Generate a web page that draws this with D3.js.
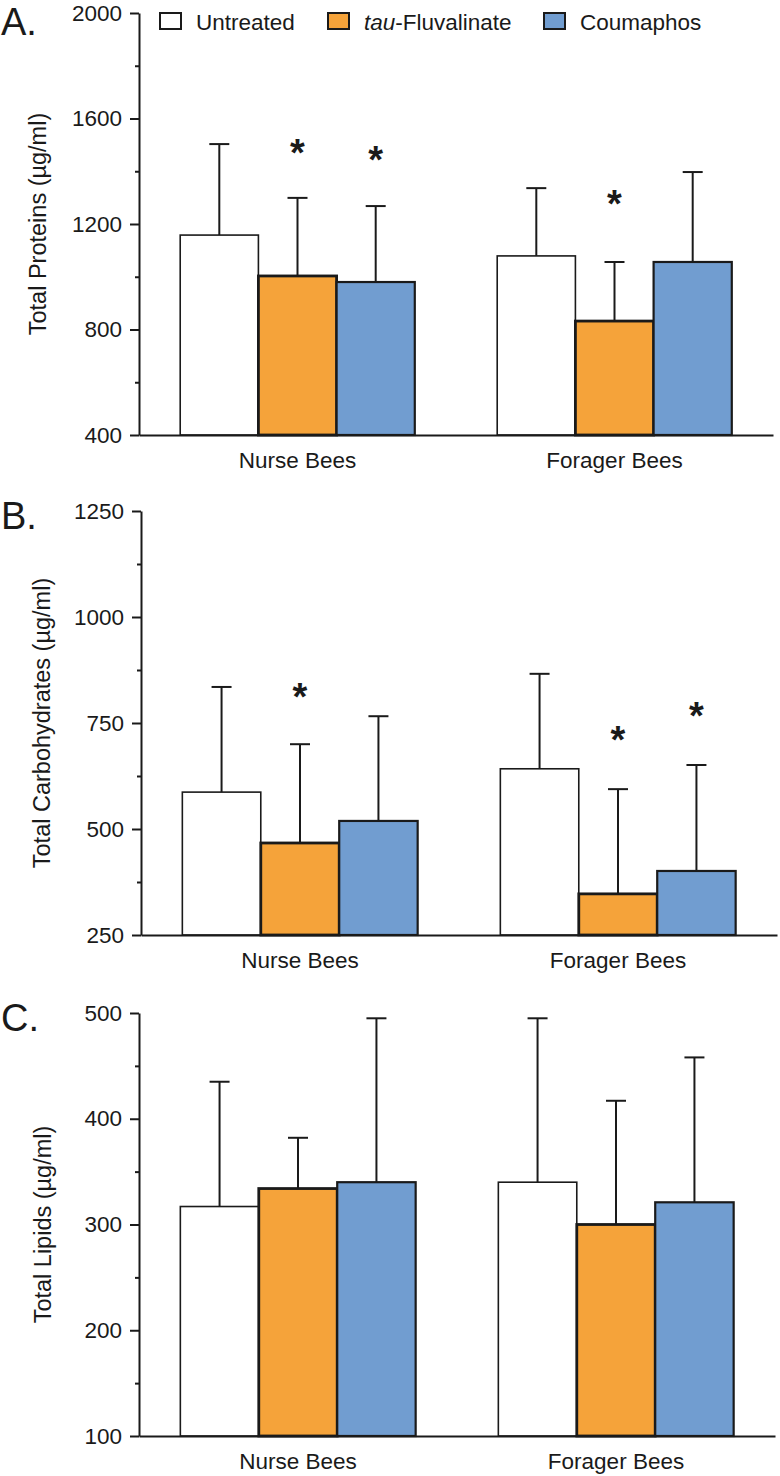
<!DOCTYPE html>
<html>
<head>
<meta charset="utf-8">
<script src="https://cdn.jsdelivr.net/npm/d3@7"></script>
<style>
  html, body { margin: 0; padding: 0; background: #fff; }
  svg text { font-family: Arial, "Liberation Sans", sans-serif; fill: #1a1a1a; }
</style>
</head>
<body>
<svg id="chart" width="780" height="1476"></svg>
<script>
// ---- data ----
const groups = ["Nurse Bees", "Forager Bees"];
const treatments = ["Untreated", "tau-Fluvalinate", "Coumaphos"];
const colors = ["#ffffff", "#f5a33a", "#719dd0"];

// Panel A: total proteins (mean, mean + SD, significance marker height or null)
const proteinMeans = [[1158, 1003, 980], [1079, 832, 1056]];
const proteinUpper = [[1503, 1299, 1268], [1336, 1056, 1397]];
const proteinStars = [[null, 1500, 1473], [null, 1306, null]];
const proteinTicks = [400, 800, 1200, 1600, 2000];

// Panel B: total carbohydrates
const carbMeans = [[587, 467, 519], [642, 347, 401]];
const carbUpper = [[835, 700, 766], [866, 594, 651]];
const carbStars = [[null, 830, null], [null, 729, 785]];
const carbTicks = [250, 500, 750, 1000, 1250];

// Panel C: total lipids
const lipidMeans = [[317, 334, 340], [340, 300, 321]];
const lipidUpper = [[435, 382, 495], [495, 417, 458]];
const lipidStars = [[null, null, null], [null, null, null]];
const lipidTicks = [100, 200, 300, 400, 500];

const svg = d3.select("#chart");
const FS = 22.5;
const ink = "#1a1a1a";
const strokeW = [1.6, 2.8, 2.2];
const FONT = "Arial, 'Liberation Sans', sans-serif";

const panels = [
  { letter: "A.", title: "Total Proteins (µg/ml)", means: proteinMeans, upper: proteinUpper, stars: proteinStars, ticks: proteinTicks,
    left: 139, right: 773, top: 13, bottom: 435, titleX: 46, letterY: 35 },
  { letter: "B.", title: "Total Carbohydrates (µg/ml)", means: carbMeans, upper: carbUpper, stars: carbStars, ticks: carbTicks,
    left: 141, right: 777, top: 511, bottom: 935, titleX: 50, letterY: 529 },
  { letter: "C.", title: "Total Lipids (µg/ml)", means: lipidMeans, upper: lipidUpper, stars: lipidStars, ticks: lipidTicks,
    left: 139, right: 775, top: 1013, bottom: 1436, titleX: 51, letterY: 1031 }
];

panels.forEach(p => {
  const g = svg.append("g");
  const y = d3.scaleLinear()
    .domain([p.ticks[0], p.ticks[p.ticks.length - 1]])
    .range([p.bottom, p.top]);
  const x0 = d3.scaleBand().domain(groups).range([p.left, p.right])
    .paddingInner(0.26).paddingOuter(0.13);
  const x1 = d3.scaleBand().domain(d3.range(treatments.length)).range([0, x0.bandwidth()]);

  groups.forEach((grp, gi) => {
    const gg = g.append("g").attr("transform", `translate(${x0(grp)},0)`);
    treatments.forEach((t, ti) => {
      const m = p.means[gi][ti], u = p.upper[gi][ti];
      const cx = x1(ti) + x1.bandwidth() / 2;
      gg.append("line").attr("x1", cx).attr("x2", cx)
        .attr("y1", y(m)).attr("y2", y(u))
        .attr("stroke", ink).attr("stroke-width", 2);
      gg.append("line").attr("x1", cx - 10).attr("x2", cx + 10)
        .attr("y1", y(u)).attr("y2", y(u))
        .attr("stroke", ink).attr("stroke-width", 2);
      gg.append("rect")
        .attr("x", x1(ti)).attr("width", x1.bandwidth())
        .attr("y", y(m)).attr("height", y(p.ticks[0]) - y(m))
        .attr("fill", colors[ti]).attr("stroke", ink)
        .attr("stroke-width", strokeW[ti]);
      const s = p.stars[gi][ti];
      if (s !== null) {
        gg.append("text").attr("x", cx).attr("y", y(s) + 21)
          .attr("text-anchor", "middle")
          .attr("font-size", 38).attr("font-weight", "bold")
          .text("*");
      }
    });
  });

  // y axis
  const minor = [];
  for (let i = 0; i < p.ticks.length - 1; i++) minor.push((p.ticks[i] + p.ticks[i + 1]) / 2);
  const ya = g.append("g").attr("transform", `translate(${p.left},0)`)
    .call(d3.axisLeft(y).tickValues(p.ticks).tickFormat(d3.format("d"))
      .tickSize(9).tickPadding(8).tickSizeOuter(0));
  ya.select(".domain").attr("stroke", ink).attr("stroke-width", 2);
  ya.selectAll(".tick line").attr("stroke", ink).attr("stroke-width", 2);
  ya.selectAll(".tick text").attr("font-size", FS).attr("fill", ink).attr("font-family", FONT);
  const ym = g.append("g").attr("transform", `translate(${p.left},0)`)
    .call(d3.axisLeft(y).tickValues(minor).tickSize(4).tickFormat(""));
  ym.select(".domain").remove();
  ym.selectAll(".tick line").attr("stroke", ink).attr("stroke-width", 2);

  // x axis
  const xa = g.append("g").attr("transform", `translate(0,${p.bottom})`)
    .call(d3.axisBottom(x0).tickSize(0).tickPadding(17).tickSizeOuter(0));
  xa.select(".domain").attr("stroke", ink).attr("stroke-width", 2);
  xa.selectAll(".tick text").attr("font-size", FS).attr("fill", ink).attr("font-family", FONT);

  // y title
  g.append("text")
    .attr("transform", `translate(${p.titleX},${(p.top + p.bottom) / 2}) rotate(-90)`)
    .attr("text-anchor", "middle").attr("font-size", 23.5)
    .text(p.title);

  // panel letter
  g.append("text").attr("x", 1).attr("y", p.letterY)
    .attr("font-size", 38).text(p.letter);
});

// legend
const legX = [160, 328, 544];
const leg = svg.append("g");
treatments.forEach((t, i) => {
  leg.append("rect").attr("x", legX[i]).attr("y", 13).attr("width", 21).attr("height", 16)
    .attr("fill", colors[i]).attr("stroke", ink).attr("stroke-width", 2);
  const tx = leg.append("text").attr("x", legX[i] + 36).attr("y", 29.5).attr("font-size", FS);
  if (t.startsWith("tau")) {
    tx.append("tspan").attr("font-style", "italic").text("tau");
    tx.append("tspan").text(t.slice(3));
  } else {
    tx.text(t);
  }
});
</script>
</body>
</html>
